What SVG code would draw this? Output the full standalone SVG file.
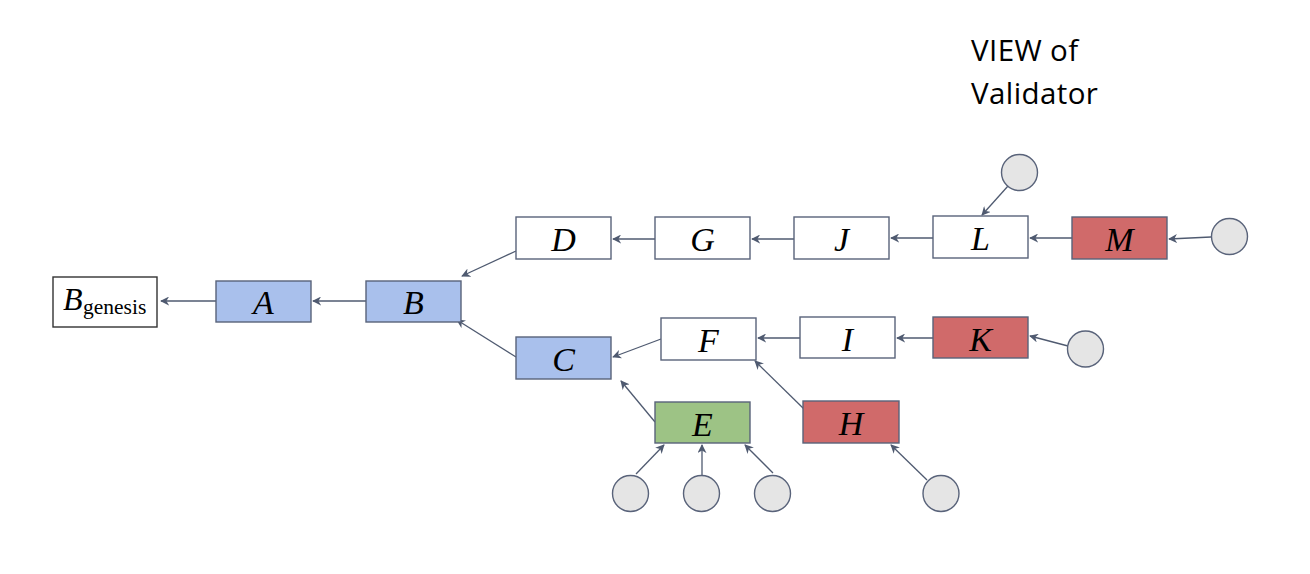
<svg xmlns="http://www.w3.org/2000/svg" width="1310" height="574" viewBox="0 0 1310 574">
<defs>
<style>
.box{stroke:#59637a;stroke-width:1.4}
.w{fill:#ffffff}
.b{fill:#a9c0ec}
.r{fill:#d06a6a}
.g{fill:#9dc385}
.c{fill:#e5e5e5;stroke:#59637a;stroke-width:1.4}
.lbl{font-family:"Liberation Serif","DejaVu Serif",serif;font-style:italic;font-size:34px;fill:#000;text-anchor:middle}
.e{stroke:#4f5a70;stroke-width:1.3;fill:none;marker-end:url(#ah)}
.t{font-family:"Open Sans","Liberation Sans",sans-serif;font-size:29.5px;letter-spacing:0.4px;fill:#000}
</style>
<marker id="ah" viewBox="0 0 10 10" refX="9" refY="5" markerWidth="9" markerHeight="9" markerUnits="userSpaceOnUse" orient="auto">
<path d="M0,0 L10,5 L0,10 L3,5 z" fill="#4f5a70"/>
</marker>
</defs>
<rect width="1310" height="574" fill="#fff"/>
<g id="title"><text class="t" x="971" y="61">VIEW of</text><text class="t" x="971" y="104">Validator</text></g>
<g id="edges">
<line class="e" x1="216" y1="301" x2="161" y2="301"/>
<line class="e" x1="366" y1="301" x2="313" y2="301"/>
<line class="e" x1="516" y1="251" x2="462" y2="276"/>
<line class="e" x1="516" y1="357" x2="457" y2="320"/>
<line class="e" x1="655" y1="239" x2="613" y2="239"/>
<line class="e" x1="794" y1="239" x2="752" y2="239"/>
<line class="e" x1="933" y1="238" x2="891" y2="238"/>
<line class="e" x1="1072" y1="238" x2="1030" y2="238"/>
<line class="e" x1="1211" y1="237" x2="1169" y2="239"/>
<line class="e" x1="1008" y1="186" x2="982" y2="215"/>
<line class="e" x1="661" y1="339" x2="613" y2="357"/>
<line class="e" x1="800" y1="338" x2="758" y2="338"/>
<line class="e" x1="933" y1="338" x2="897" y2="338"/>
<line class="e" x1="1068" y1="346" x2="1030" y2="336"/>
<line class="e" x1="655" y1="422" x2="621" y2="381"/>
<line class="e" x1="804" y1="409" x2="755" y2="361"/>
<line class="e" x1="636" y1="474" x2="664" y2="445"/>
<line class="e" x1="702" y1="475" x2="702" y2="445"/>
<line class="e" x1="773" y1="473" x2="745" y2="445"/>
<line class="e" x1="927" y1="480" x2="891" y2="445"/>
</g>
<g id="Bgenesis"><rect x="53" y="277" width="104" height="50" fill="#fff" stroke="#333" stroke-width="1.4"/><text x="63" y="310" font-family="Liberation Serif,serif" font-size="32" font-style="italic">B</text><text x="83" y="314" font-family="Liberation Serif,serif" font-size="21.5">genesis</text></g>
<g id="A"><rect class="box b" x="216" y="281" width="95" height="41"/><text class="lbl" x="263.5" y="314">A</text></g>
<g id="B"><rect class="box b" x="366" y="281" width="95" height="41"/><text class="lbl" x="413.5" y="314">B</text></g>
<g id="C"><rect class="box b" x="516" y="337" width="95" height="42"/><text class="lbl" x="563.5" y="371">C</text></g>
<g id="D"><rect class="box w" x="516" y="217" width="95" height="42"/><text class="lbl" x="563.5" y="251">D</text></g>
<g id="G"><rect class="box w" x="655" y="217" width="95" height="42"/><text class="lbl" x="702.5" y="251">G</text></g>
<g id="J"><rect class="box w" x="794" y="217" width="95" height="42"/><text class="lbl" x="841.5" y="251">J</text></g>
<g id="L"><rect class="box w" x="933" y="216" width="95" height="42"/><text class="lbl" x="980.5" y="250">L</text></g>
<g id="M"><rect class="box r" x="1072" y="217" width="95" height="42"/><text class="lbl" x="1119.5" y="251">M</text></g>
<g id="F"><rect class="box w" x="661" y="318" width="95" height="42"/><text class="lbl" x="708.5" y="352">F</text></g>
<g id="I"><rect class="box w" x="800" y="317" width="95" height="41"/><text class="lbl" x="847.5" y="351">I</text></g>
<g id="K"><rect class="box r" x="933" y="317" width="95" height="41"/><text class="lbl" x="980.5" y="351">K</text></g>
<g id="E"><rect class="box g" x="655" y="402" width="95" height="41"/><text class="lbl" x="702.5" y="436">E</text></g>
<g id="H"><rect class="box r" x="803" y="401" width="96" height="42"/><text class="lbl" x="851" y="435">H</text></g>
<g id="v1"><circle class="c" cx="1019.5" cy="172.5" r="18"/></g>
<g id="v2"><circle class="c" cx="1229.5" cy="236.5" r="18"/></g>
<g id="v3"><circle class="c" cx="1085.5" cy="349" r="18"/></g>
<g id="v4"><circle class="c" cx="630.5" cy="493.5" r="18"/></g>
<g id="v5"><circle class="c" cx="701.5" cy="493.5" r="18"/></g>
<g id="v6"><circle class="c" cx="772.5" cy="493.5" r="18"/></g>
<g id="v7"><circle class="c" cx="941" cy="493.5" r="18"/></g>
</svg>
